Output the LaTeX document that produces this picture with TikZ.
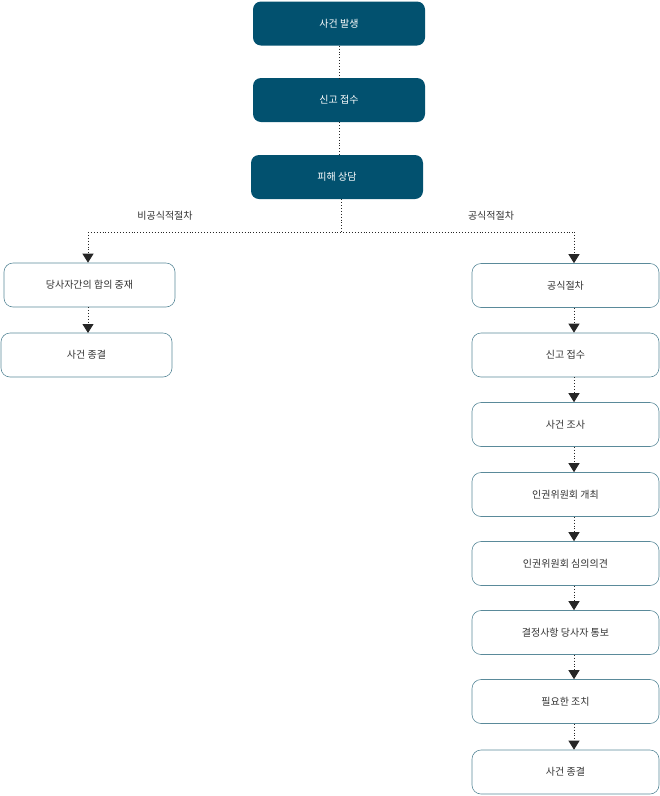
\documentclass[tikz,border=0pt]{standalone}
\usepackage{fontspec}
\setmainfont{Noto Sans CJK KR}
\usetikzlibrary{arrows.meta}
\definecolor{dark}{HTML}{02516F}
\definecolor{edge}{HTML}{5A8A9A}
\begin{document}
\begin{tikzpicture}[x=1pt,y=-1pt,
  topbox/.style={fill=dark,rounded corners=8pt,text=white,font=\fontsize{10}{12}\selectfont,minimum height=44pt,inner sep=0pt},
  stepbox/.style={draw=edge,line width=0.6pt,fill=white,rounded corners=9pt,font=\fontsize{10}{12}\selectfont,text=black!80,minimum height=44pt,inner sep=0pt},
  conn/.style={dotted,line width=0.9pt,black!85},
  arr/.style={conn,-{Triangle[length=9pt,width=11pt]}},
  lbl/.style={font=\fontsize{10}{12}\selectfont,text=black!80}]
\useasboundingbox (0,0) rectangle (660,796);
\node[topbox,minimum width=172pt] (a) at (339,23.5) {사건 발생};
\node[topbox,minimum width=172pt] (b) at (339,100) {신고 접수};
\node[topbox,minimum width=172pt] (c) at (337,177) {피해 상담};
\draw[conn] (a.south) -- (a.south|-b.north);
\draw[conn] (b.south) -- (b.south|-c.north);
\coordinate (j) at (341,232);
\node[stepbox,minimum width=171pt] (l1) at (89.5,285) {당사자간의 합의 중재};
\node[stepbox,minimum width=171pt] (l2) at (86.5,355) {사건 종결};
\foreach \n/\y/\t in {r1/285.5/공식절차, r2/355/신고 접수, r3/424.5/사건 조사, r4/494.5/인권위원회 개최, r5/563.5/인권위원회 심의의견, r6/632.5/결정사항 당사자 통보, r7/701.5/필요한 조치/ 징계위원회 징계, r8/772/사건 종결}
  \node[stepbox,minimum width=187pt] (\n) at (565.5,\y) {\t};
\coordinate (jl) at (88,232);
\coordinate (jr) at (574,232);
\draw[conn] (c.south -| j) -- (j);
\draw[conn] (jl) -- (jr);
\draw[arr] (jl) -- (jl|-l1.north);
\draw[arr] (jr) -- (jr|-r1.north);
\node[lbl] (t1) at (165,216) {비공식적절차};
\node[lbl] (t2) at (491,216) {공식적절차};
\draw[arr] (88,307) -- (88,333);
\foreach \p/\q in {r1/r2,r2/r3,r3/r4,r4/r5,r5/r6,r6/r7,r7/r8}
  \draw[arr] (\p.south -| jr) -- (\q.north -| jr);
\end{tikzpicture}
\end{document}
